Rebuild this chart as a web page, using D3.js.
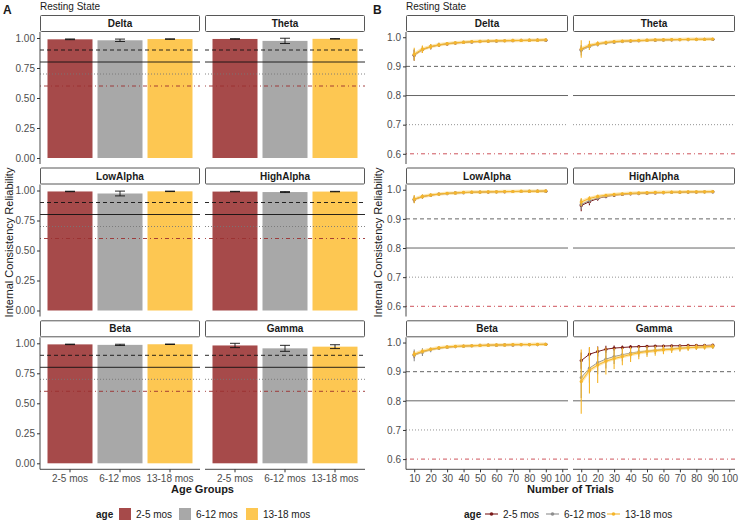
<!DOCTYPE html>
<html>
<head>
<meta charset="utf-8">
<script src="https://cdn.jsdelivr.net/npm/d3@7"></script>
<style>
  body { margin: 0; background: #fff; }
  svg { font-family: "Liberation Sans", Arial, sans-serif; }
</style>
</head>
<body>
<svg width="739" height="522"></svg>
<script>
// bands and age groups
const bands = ["Delta", "Theta", "LowAlpha", "HighAlpha", "Beta", "Gamma"];
const ages = ["2-5 mos", "6-12 mos", "13-18 mos"];
const yTicksA = [0, 0.25, 0.5, 0.75, 1];
const yTicksB = [0.6, 0.7, 0.8, 0.9, 1.0];
const xTicksB = [10, 20, 30, 40, 50, 60, 70, 80, 90, 100];
const cutoffs = [0.9, 0.8, 0.7, 0.6];

// panel A: mean reliability per band, one array per age group
const bar25 = [0.989, 0.992, 0.992, 0.991, 0.991, 0.982];
const bar612 = [0.981, 0.976, 0.975, 0.987, 0.987, 0.958];
const bar1318 = [0.991, 0.993, 0.993, 0.991, 0.992, 0.972];
const err25 = [0.003, 0.002, 0.002, 0.002, 0.002, 0.018];
const err612 = [0.010, 0.022, 0.020, 0.004, 0.005, 0.025];
const err1318 = [0.002, 0.002, 0.002, 0.002, 0.002, 0.016];

// panel B: number of trials
const trials = [10, 15, 20, 25, 30, 35, 40, 45, 50, 55, 60, 65, 70, 75, 80, 85, 90];

// means per band: rows = 2-5, 6-12, 13-18 mos
const icDelta = [
  [0.938, 0.957, 0.967, 0.973, 0.977, 0.980, 0.982, 0.984, 0.985, 0.986, 0.987, 0.988, 0.988, 0.989, 0.989, 0.990, 0.990],
  [0.940, 0.958, 0.968, 0.974, 0.978, 0.981, 0.983, 0.984, 0.986, 0.987, 0.987, 0.988, 0.989, 0.989, 0.990, 0.990, 0.990],
  [0.942, 0.959, 0.968, 0.974, 0.978, 0.981, 0.983, 0.985, 0.986, 0.987, 0.988, 0.988, 0.989, 0.989, 0.990, 0.990, 0.991]
];
const seDelta = [
  [0.018, 0.011, 0.008, 0.006, 0.005, 0.004, 0.003, 0.003, 0.003, 0.002, 0.002, 0.002, 0.002, 0.002, 0.002, 0.002, 0.002],
  [0.020, 0.012, 0.009, 0.007, 0.005, 0.004, 0.004, 0.003, 0.003, 0.003, 0.002, 0.002, 0.002, 0.002, 0.002, 0.002, 0.002],
  [0.022, 0.013, 0.009, 0.007, 0.005, 0.004, 0.004, 0.003, 0.003, 0.003, 0.002, 0.002, 0.002, 0.002, 0.002, 0.002, 0.002]
];
const icTheta = [
  [0.958, 0.970, 0.977, 0.981, 0.984, 0.986, 0.987, 0.988, 0.989, 0.990, 0.991, 0.991, 0.992, 0.992, 0.993, 0.993, 0.993],
  [0.955, 0.968, 0.976, 0.980, 0.983, 0.985, 0.987, 0.988, 0.989, 0.990, 0.990, 0.991, 0.992, 0.992, 0.992, 0.993, 0.993],
  [0.960, 0.972, 0.978, 0.982, 0.985, 0.987, 0.988, 0.989, 0.990, 0.991, 0.991, 0.992, 0.992, 0.993, 0.993, 0.993, 0.994]
];
const seTheta = [
  [0.010, 0.007, 0.005, 0.004, 0.003, 0.003, 0.002, 0.002, 0.002, 0.002, 0.002, 0.002, 0.002, 0.002, 0.002, 0.002, 0.002],
  [0.018, 0.012, 0.008, 0.006, 0.005, 0.004, 0.003, 0.003, 0.003, 0.002, 0.002, 0.002, 0.002, 0.002, 0.002, 0.002, 0.002],
  [0.030, 0.016, 0.008, 0.006, 0.004, 0.003, 0.003, 0.002, 0.002, 0.002, 0.002, 0.002, 0.002, 0.002, 0.002, 0.002, 0.002]
];
const icLowAlpha = [
  [0.966, 0.976, 0.981, 0.985, 0.987, 0.989, 0.990, 0.991, 0.992, 0.992, 0.993, 0.993, 0.994, 0.994, 0.994, 0.995, 0.995],
  [0.967, 0.977, 0.982, 0.985, 0.987, 0.989, 0.990, 0.991, 0.992, 0.993, 0.993, 0.994, 0.994, 0.994, 0.995, 0.995, 0.995],
  [0.968, 0.977, 0.982, 0.985, 0.988, 0.989, 0.991, 0.992, 0.992, 0.993, 0.993, 0.994, 0.994, 0.995, 0.995, 0.995, 0.996]
];
const seLowAlpha = [
  [0.010, 0.006, 0.004, 0.003, 0.003, 0.002, 0.002, 0.002, 0.002, 0.002, 0.001, 0.001, 0.001, 0.001, 0.001, 0.001, 0.001],
  [0.012, 0.007, 0.005, 0.004, 0.003, 0.003, 0.002, 0.002, 0.002, 0.002, 0.002, 0.001, 0.001, 0.001, 0.001, 0.001, 0.001],
  [0.014, 0.007, 0.005, 0.004, 0.003, 0.002, 0.002, 0.002, 0.002, 0.002, 0.001, 0.001, 0.001, 0.001, 0.001, 0.001, 0.001]
];
const icHighAlpha = [
  [0.946, 0.959, 0.970, 0.977, 0.981, 0.984, 0.986, 0.987, 0.988, 0.989, 0.990, 0.991, 0.991, 0.992, 0.992, 0.993, 0.993],
  [0.950, 0.963, 0.972, 0.978, 0.982, 0.985, 0.987, 0.988, 0.989, 0.990, 0.990, 0.991, 0.992, 0.992, 0.993, 0.993, 0.993],
  [0.958, 0.970, 0.977, 0.981, 0.984, 0.986, 0.988, 0.989, 0.990, 0.991, 0.991, 0.992, 0.992, 0.993, 0.993, 0.993, 0.994]
];
const seHighAlpha = [
  [0.020, 0.012, 0.008, 0.006, 0.005, 0.004, 0.003, 0.003, 0.003, 0.002, 0.002, 0.002, 0.002, 0.002, 0.002, 0.002, 0.002],
  [0.018, 0.011, 0.007, 0.005, 0.004, 0.003, 0.003, 0.002, 0.002, 0.002, 0.002, 0.002, 0.002, 0.002, 0.002, 0.002, 0.002],
  [0.014, 0.008, 0.006, 0.004, 0.003, 0.003, 0.002, 0.002, 0.002, 0.002, 0.002, 0.001, 0.001, 0.001, 0.001, 0.001, 0.001]
];
const icBeta = [
  [0.958, 0.968, 0.976, 0.981, 0.984, 0.986, 0.988, 0.989, 0.990, 0.991, 0.991, 0.992, 0.992, 0.993, 0.993, 0.993, 0.994],
  [0.956, 0.967, 0.975, 0.980, 0.984, 0.986, 0.987, 0.989, 0.990, 0.990, 0.991, 0.992, 0.992, 0.993, 0.993, 0.993, 0.994],
  [0.960, 0.970, 0.977, 0.982, 0.985, 0.987, 0.988, 0.989, 0.990, 0.991, 0.992, 0.992, 0.993, 0.993, 0.993, 0.994, 0.994]
];
const seBeta = [
  [0.012, 0.008, 0.005, 0.004, 0.003, 0.003, 0.002, 0.002, 0.002, 0.002, 0.002, 0.001, 0.001, 0.001, 0.001, 0.001, 0.001],
  [0.020, 0.013, 0.008, 0.006, 0.004, 0.003, 0.003, 0.002, 0.002, 0.002, 0.002, 0.002, 0.002, 0.002, 0.001, 0.001, 0.001],
  [0.010, 0.007, 0.005, 0.004, 0.003, 0.002, 0.002, 0.002, 0.002, 0.002, 0.001, 0.001, 0.001, 0.001, 0.001, 0.001, 0.001]
];
const icGamma = [
  [0.938, 0.960, 0.969, 0.977, 0.981, 0.983, 0.985, 0.986, 0.987, 0.988, 0.988, 0.989, 0.989, 0.990, 0.990, 0.990, 0.991],
  [0.880, 0.912, 0.931, 0.943, 0.952, 0.958, 0.964, 0.968, 0.971, 0.974, 0.977, 0.979, 0.981, 0.983, 0.984, 0.985, 0.986],
  [0.866, 0.905, 0.923, 0.936, 0.945, 0.952, 0.959, 0.965, 0.969, 0.972, 0.975, 0.977, 0.980, 0.982, 0.984, 0.985, 0.987]
];
const seGamma = [
  [0.028, 0.022, 0.017, 0.012, 0.009, 0.007, 0.006, 0.005, 0.005, 0.004, 0.004, 0.003, 0.003, 0.003, 0.003, 0.003, 0.002],
  [0.070, 0.050, 0.040, 0.032, 0.026, 0.022, 0.019, 0.017, 0.015, 0.013, 0.012, 0.011, 0.010, 0.009, 0.008, 0.008, 0.007],
  [0.110, 0.080, 0.062, 0.046, 0.036, 0.030, 0.026, 0.022, 0.019, 0.017, 0.015, 0.013, 0.012, 0.011, 0.010, 0.009, 0.008]
];

const barColors = ["#a64a4a", "#a8a8a8", "#fdc752"];
const lineColors = ["#7a1a1a", "#8e8e8e", "#f5b52a"];
const cutStyle = [
  { dash: "4,3", colorA: "#111", colorB: "#555" },
  { dash: null, colorA: "#111", colorB: "#555" },
  { dash: "1,2", colorA: "#777", colorB: "#888" },
  { dash: "1,3,4,3", colorA: "#9b3030", colorB: "#c8404a" }
];

const barMeans = [bar25, bar612, bar1318];
const barErrs = [err25, err612, err1318];
const icMeans = [icDelta, icTheta, icLowAlpha, icHighAlpha, icBeta, icGamma];
const icSe = [seDelta, seTheta, seLowAlpha, seHighAlpha, seBeta, seGamma];

const svg = d3.select("svg");
const rowTops = [32, 184.5, 337.3];
const panelH = 132;
const stripH = 16;
const colsA = [40, 205], wA = 160;
const colsB = [406, 573], wB = 162;
const tickCol = "#4d4d4d";

function strip(g, x, y, w, label) {
  g.append("rect").attr("x", x + 0.5).attr("y", y - stripH - 0.5).attr("width", w - 1).attr("height", stripH)
    .attr("fill", "#fff").attr("stroke", "#444").attr("stroke-width", 0.9).attr("rx", 1);
  g.append("text").attr("x", x + w / 2).attr("y", y - stripH / 2 - 0.5).attr("dy", "0.35em")
    .attr("text-anchor", "middle").attr("font-size", 10).attr("font-weight", "bold").attr("fill", "#1a1a1a").text(label);
}

function styleAxis(ax) {
  ax.select(".domain").remove();
  ax.selectAll(".tick line").attr("stroke", "#333");
  ax.selectAll(".tick text").attr("fill", tickCol).attr("font-size", 10)
    .attr("font-family", "'Liberation Sans', Arial, sans-serif");
}

// ---------- Panel A ----------
const gA = svg.append("g");
const xBand = d3.scaleBand().domain(ages).range([0, wA]).paddingInner(0.1).paddingOuter(0.15);

bands.forEach((band, i) => {
  const col = i % 2, row = Math.floor(i / 2);
  const x0 = colsA[col], top = rowTops[row];
  const y = d3.scaleLinear().domain([-0.05, 1.05]).range([top + panelH, top]);
  const g = gA.append("g");
  strip(g, x0, top, wA, band);

  ages.forEach((a, k) => {
    const v = barMeans[k][i];
    g.append("rect").attr("x", x0 + xBand(a)).attr("width", xBand.bandwidth())
      .attr("y", y(v)).attr("height", y(0) - y(v)).attr("fill", barColors[k]);
  });

  cutoffs.forEach((c, j) => {
    g.append("line").attr("x1", x0).attr("x2", x0 + wA).attr("y1", y(c)).attr("y2", y(c))
      .attr("stroke", cutStyle[j].colorA).attr("stroke-width", 0.9)
      .attr("stroke-dasharray", cutStyle[j].dash);
  });

  ages.forEach((a, k) => {
    const v = barMeans[k][i], e = barErrs[k][i];
    const cx = x0 + xBand(a) + xBand.bandwidth() / 2;
    const hw = 5;
    const eg = g.append("g").attr("stroke", "#111").attr("stroke-width", 0.9);
    eg.append("line").attr("x1", cx).attr("x2", cx).attr("y1", y(v - e)).attr("y2", y(v + e));
    eg.append("line").attr("x1", cx - hw).attr("x2", cx + hw).attr("y1", y(v - e)).attr("y2", y(v - e));
    eg.append("line").attr("x1", cx - hw).attr("x2", cx + hw).attr("y1", y(v + e)).attr("y2", y(v + e));
  });

  if (col === 0) {
    const ax = g.append("g").attr("transform", `translate(${x0},0)`)
      .call(d3.axisLeft(y).tickValues(yTicksA).tickFormat(d3.format(".2f")).tickSize(3).tickPadding(2));
    styleAxis(ax);
    g.append("line").attr("x1", x0).attr("x2", x0).attr("y1", top).attr("y2", top + panelH)
      .attr("stroke", "#333").attr("stroke-width", 0.9);
  }
  if (row === 2) {
    const xs = xBand.copy().range([x0, x0 + wA]);
    const ax = g.append("g").attr("transform", `translate(0,${top + panelH})`)
      .call(d3.axisBottom(xs).tickSize(3).tickPadding(3));
    styleAxis(ax);
    g.append("line").attr("x1", x0).attr("x2", x0 + wA).attr("y1", top + panelH).attr("y2", top + panelH)
      .attr("stroke", "#333").attr("stroke-width", 0.9);
  }
});

// ---------- Panel B ----------
const gB = svg.append("g");
bands.forEach((band, i) => {
  const col = i % 2, row = Math.floor(i / 2);
  const x0 = colsB[col], top = rowTops[row];
  const y = d3.scaleLinear().domain([0.565, 1.018]).range([top + panelH, top]);
  const x = d3.scaleLinear().domain([5, 103.5]).range([x0, x0 + wB]);
  const g = gB.append("g");
  strip(g, x0, top, wB, band);

  cutoffs.forEach((c, j) => {
    g.append("line").attr("x1", x0).attr("x2", x0 + wB).attr("y1", y(c)).attr("y2", y(c))
      .attr("stroke", cutStyle[j].colorB).attr("stroke-width", 0.9)
      .attr("stroke-dasharray", cutStyle[j].dash);
  });

  const line = d3.line().x((d, t) => x(trials[t])).y(d => y(d));
  ages.forEach((a, k) => {
    const m = icMeans[i][k], s = icSe[i][k];
    const sg = g.append("g");
    if (k === 2) {
      sg.append("path").attr("d", line(m)).attr("fill", "none")
        .attr("stroke", "#fdd77a").attr("stroke-opacity", 0.6).attr("stroke-width", 3.5);
    }
    m.forEach((v, t) => {
      sg.append("line").attr("x1", x(trials[t])).attr("x2", x(trials[t]))
        .attr("y1", y(v - s[t])).attr("y2", y(v + s[t]))
        .attr("stroke", lineColors[k]).attr("stroke-width", 1.1);
    });
    sg.append("path").attr("d", line(m)).attr("fill", "none")
      .attr("stroke", lineColors[k]).attr("stroke-width", 1);
    sg.selectAll("circle").data(m).join("circle")
      .attr("cx", (d, t) => x(trials[t])).attr("cy", d => y(d)).attr("r", 1.6)
      .attr("fill", lineColors[k]);
  });

  if (col === 0) {
    const ax = g.append("g").attr("transform", `translate(${x0},0)`)
      .call(d3.axisLeft(y).tickValues(yTicksB).tickFormat(d3.format(".1f")).tickSize(3).tickPadding(2));
    styleAxis(ax);
    g.append("line").attr("x1", x0).attr("x2", x0).attr("y1", top).attr("y2", top + panelH)
      .attr("stroke", "#333").attr("stroke-width", 0.9);
  }
  if (row === 2) {
    const ax = g.append("g").attr("transform", `translate(0,${top + panelH})`)
      .call(d3.axisBottom(x).tickValues(xTicksB).tickSize(3).tickPadding(3));
    styleAxis(ax);
    g.append("line").attr("x1", x0).attr("x2", x0 + wB).attr("y1", top + panelH).attr("y2", top + panelH)
      .attr("stroke", "#333").attr("stroke-width", 0.9);
  }
});

// ---------- titles ----------
const T = svg.append("g").attr("fill", "#1a1a1a");
T.append("text").attr("x", 3).attr("y", 14).attr("font-size", 12).attr("font-weight", "bold").text("A");
T.append("text").attr("x", 373).attr("y", 14).attr("font-size", 12).attr("font-weight", "bold").text("B");
T.append("text").attr("x", 40).attr("y", 10).attr("font-size", 10).text("Resting State");
T.append("text").attr("x", 406).attr("y", 10).attr("font-size", 10).text("Resting State");

[[9, "A"], [378, "B"]].forEach(([xc]) => {
  T.append("text").attr("transform", `translate(${xc},${(16 + 469) / 2}) rotate(-90)`)
    .attr("text-anchor", "middle").attr("dy", "0.35em").attr("font-size", 11)
    .text("Internal Consistency Reliability");
});
T.append("text").attr("x", (colsA[0] + colsA[1] + wA) / 2).attr("y", 493).attr("text-anchor", "middle")
  .attr("font-size", 11).attr("font-weight", "bold").text("Age Groups");
T.append("text").attr("x", (colsB[0] + colsB[1] + wB) / 2).attr("y", 493).attr("text-anchor", "middle")
  .attr("font-size", 11).attr("font-weight", "bold").text("Number of Trials");

// ---------- legends ----------
const legY = 514;
const L = svg.append("g").attr("font-size", 10);
L.append("text").attr("x", 96).attr("y", legY).attr("dy", "0.35em").attr("font-weight", "bold").attr("fill", "#1a1a1a").text("age");
const keyA = [119, 179, 246];
ages.forEach((a, k) => {
  L.append("rect").attr("x", keyA[k]).attr("y", legY - 6).attr("width", 12).attr("height", 12).attr("fill", barColors[k]);
  L.append("text").attr("x", keyA[k] + 17).attr("y", legY).attr("dy", "0.35em").attr("fill", "#1a1a1a").text(a);
});
L.append("text").attr("x", 464).attr("y", legY).attr("dy", "0.35em").attr("font-weight", "bold").attr("fill", "#1a1a1a").text("age");
const keyB = [485, 546, 607];
ages.forEach((a, k) => {
  L.append("line").attr("x1", keyB[k]).attr("x2", keyB[k] + 13).attr("y1", legY).attr("y2", legY)
    .attr("stroke", lineColors[k]).attr("stroke-width", 1.1);
  L.append("circle").attr("cx", keyB[k] + 6.5).attr("cy", legY).attr("r", 1.8).attr("fill", lineColors[k]);
  L.append("text").attr("x", keyB[k] + 18).attr("y", legY).attr("dy", "0.35em").attr("fill", "#1a1a1a").text(a);
});
</script>
</body>
</html>
